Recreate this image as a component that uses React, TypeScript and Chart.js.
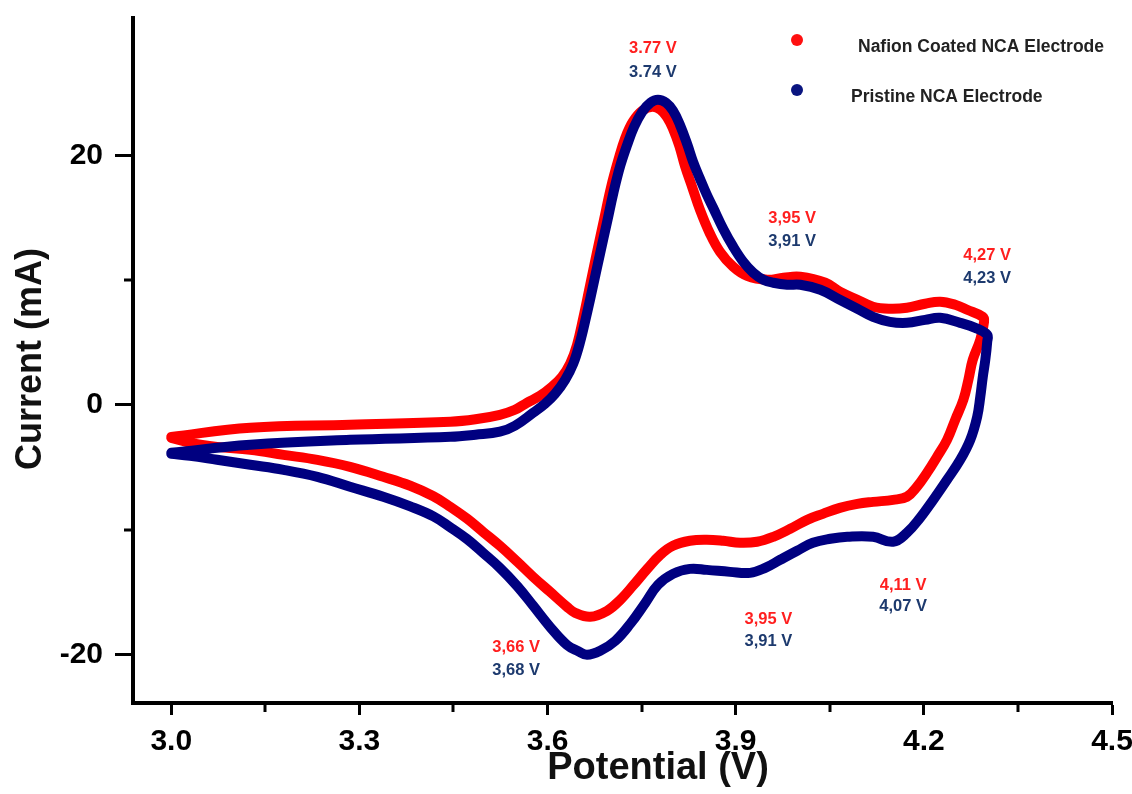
import React, { useEffect, useRef } from 'react';
import { Chart, registerables } from 'chart.js';

Chart.register(...registerables);

// ---- Data (potential in V, current in mA) ----
const NAFION_V = [
  3.000, 3.126, 3.285, 3.445, 3.485, 3.524, 3.548, 3.567, 3.588, 3.607, 3.623, 3.636, 3.647, 3.657, 3.668,
  3.679, 3.690, 3.701, 3.713, 3.724, 3.736, 3.751, 3.767, 3.780, 3.791, 3.800, 3.810, 3.819, 3.831, 3.843,
  3.859, 3.875, 3.896, 3.918, 3.950, 3.976, 4.003, 4.043, 4.066, 4.094, 4.119, 4.146, 4.173, 4.202, 4.226,
  4.250, 4.269, 4.294,
  4.296, 4.290, 4.278, 4.271, 4.263, 4.250, 4.237, 4.221, 4.205, 4.189, 4.173, 4.151, 4.119, 4.094, 4.066,
  4.039, 4.014, 3.987, 3.960, 3.934, 3.907, 3.880, 3.854, 3.827, 3.800, 3.780, 3.759, 3.736, 3.716, 3.695,
  3.668, 3.644, 3.631, 3.604, 3.577, 3.552, 3.524, 3.497, 3.472, 3.445, 3.418, 3.381, 3.338, 3.285, 3.233,
  3.179, 3.126, 3.073, 3.030, 3.000,
];
const NAFION_I = [
  -2.57, -1.84, -1.60, -1.36, -1.16, -0.80, -0.40, 0.16, 0.72, 1.44, 2.24, 3.29, 4.81, 6.97, 9.62,
  12.26, 14.83, 17.39, 19.64, 21.40, 22.69, 23.57, 23.89, 23.65, 23.01, 22.12, 20.76, 19.16, 17.39, 15.63,
  13.71, 12.26, 11.06, 10.34, 10.02, 10.18, 10.26, 9.78, 9.06, 8.42, 7.86, 7.70, 7.78, 8.10, 8.26,
  8.02, 7.62, 7.05,
  6.65, 5.21, 3.61, 2.00, 0.40, -1.20, -2.81, -4.17, -5.45, -6.57, -7.37, -7.62, -7.78, -7.94, -8.26,
  -8.74, -9.22, -9.94, -10.58, -10.98, -11.06, -10.90, -10.82, -10.90, -11.30, -12.02, -13.15, -14.51, -15.63, -16.51,
  -16.99, -16.67, -16.19, -14.99, -13.79, -12.59, -11.30, -10.18, -9.14, -8.18, -7.33, -6.49, -5.77, -4.97, -4.41,
  -4.01, -3.61, -3.37, -3.05, -2.65,
];

const PRISTINE_V = [
  3.000, 3.126, 3.285, 3.445, 3.485, 3.524, 3.548, 3.577, 3.596, 3.612, 3.628, 3.641, 3.652, 3.663, 3.674,
  3.684, 3.695, 3.705, 3.716, 3.727, 3.738, 3.751, 3.764, 3.776, 3.789, 3.800, 3.811, 3.823, 3.832, 3.843,
  3.854, 3.864, 3.880, 3.896, 3.912, 3.928, 3.944, 3.960, 3.982, 4.003, 4.035, 4.066, 4.094, 4.119, 4.146,
  4.173, 4.202, 4.226, 4.258, 4.282, 4.301,
  4.301, 4.298, 4.294, 4.290, 4.285, 4.274, 4.258, 4.237, 4.215, 4.194, 4.173, 4.151, 4.119, 4.078, 4.051,
  4.023, 3.998, 3.971, 3.947, 3.923, 3.891, 3.854, 3.827, 3.800, 3.776, 3.756, 3.732, 3.708, 3.684, 3.663,
  3.649, 3.631, 3.604, 3.577, 3.552, 3.524, 3.497, 3.472, 3.445, 3.418, 3.381, 3.338, 3.285, 3.233, 3.179,
  3.126, 3.073, 3.030, 3.000,
];
const PRISTINE_I = [
  -3.85, -3.21, -2.81, -2.57, -2.40, -2.16, -1.68, -0.64, 0.08, 0.88, 2.00, 3.29, 5.05, 7.37, 9.86,
  12.18, 14.67, 16.99, 19.16, 20.84, 22.28, 23.49, 24.21, 24.45, 24.21, 23.57, 22.45, 20.84, 19.48, 18.12,
  16.83, 15.79, 14.11, 12.67, 11.46, 10.58, 10.02, 9.78, 9.62, 9.62, 9.22, 8.42, 7.70, 7.05, 6.65,
  6.57, 6.81, 6.97, 6.57, 6.17, 5.61,
  5.05, 3.61, 2.24, 0.64, -0.96, -2.81, -4.41, -6.01, -7.62, -9.06, -10.26, -10.98, -10.58, -10.58, -10.74,
  -11.06, -11.70, -12.42, -13.07, -13.47, -13.39, -13.23, -13.15, -13.55, -14.43, -15.87, -17.55, -18.92, -19.72, -20.04,
  -19.75, -19.25, -17.80, -16.10, -14.55, -13.07, -11.86, -10.78, -9.82, -8.94, -8.14, -7.37, -6.57, -5.77, -5.21,
  -4.81, -4.41, -4.09, -3.93,
];

const SERIES_NAMES = ['Nafion Coated NCA Electrode', 'Pristine NCA Electrode'];

const X_TICKS = [3.0, 3.3, 3.6, 3.9, 4.2, 4.5];
const X_MINOR = [3.15, 3.45, 3.75, 4.05, 4.35];
const Y_TICKS = [-20, 0, 20];
const Y_MINOR = [-10, 10];

// Peak annotations (text, anchor potential, anchor current, series index)
const PEAK_TEXT = [
  '3.77 V', '3.74 V', '3,95 V', '3,91 V', '4,27 V', '4,23 V',
  '4,11 V', '4,07 V', '3,95 V', '3,91 V', '3,66 V', '3,68 V',
];
const PEAK_V = [3.768, 3.768, 3.990, 3.990, 4.301, 4.301, 4.167, 4.167, 3.952, 3.952, 3.550, 3.550];
const PEAK_I = [28.54, 26.61, 14.91, 13.07, 11.94, 10.10, -14.51, -16.19, -17.23, -19.00, -19.48, -21.32];
const PEAK_SERIES = [0, 1, 0, 1, 0, 1, 0, 1, 0, 1, 0, 1];

const LINE_COLORS = ['#ff0000', '#000080'];
const LABEL_COLORS = ['#ff1f1f', '#1d3a6e'];

const FONT = "'Liberation Sans', Arial, Helvetica, sans-serif";

const overlayPlugin = {
  id: 'overlay',
  afterDraw(chart: any) {
    const { ctx, chartArea, scales } = chart;
    const xs = scales.x;
    const ys = scales.y;
    ctx.save();
    // minor ticks
    ctx.strokeStyle = '#000';
    ctx.lineWidth = 3;
    ctx.beginPath();
    X_MINOR.forEach((v) => {
      const px = Math.round(xs.getPixelForValue(v));
      ctx.moveTo(px, chartArea.bottom);
      ctx.lineTo(px, chartArea.bottom + 9);
    });
    Y_MINOR.forEach((v) => {
      const py = Math.round(ys.getPixelForValue(v));
      ctx.moveTo(chartArea.left, py);
      ctx.lineTo(chartArea.left - 9, py);
    });
    ctx.stroke();

    // peak labels
    ctx.font = `bold 16.5px ${FONT}`;
    ctx.textAlign = 'center';
    ctx.textBaseline = 'middle';
    PEAK_TEXT.forEach((t, k) => {
      ctx.fillStyle = LABEL_COLORS[PEAK_SERIES[k]];
      ctx.fillText(t, xs.getPixelForValue(PEAK_V[k]), ys.getPixelForValue(PEAK_I[k]));
    });

    // legend
    const legendPos = [
      { dx: 797, dy: 40, tx: 858, ty: 47 },
      { dx: 797, dy: 90, tx: 851, ty: 97 },
    ];
    ctx.font = `bold 17.5px ${FONT}`;
    ctx.textAlign = 'left';
    SERIES_NAMES.forEach((name, k) => {
      const p = legendPos[k];
      ctx.fillStyle = k === 0 ? '#ff1010' : '#0a1580';
      ctx.beginPath();
      ctx.arc(p.dx, p.dy, 6, 0, Math.PI * 2);
      ctx.fill();
      ctx.fillStyle = '#222';
      ctx.fillText(name, p.tx, p.ty);
    });

    // axis titles
    ctx.fillStyle = '#111';
    ctx.font = `bold 38px ${FONT}`;
    ctx.textAlign = 'center';
    ctx.textBaseline = 'middle';
    ctx.fillText('Potential (V)', 658, 769);
    ctx.save();
    ctx.translate(31, 359);
    ctx.rotate(-Math.PI / 2);
    ctx.font = `bold 36px ${FONT}`;
    ctx.fillText('Current (mA)', 0, 0);
    ctx.restore();
    ctx.restore();
  },
};

export default function App() {
  const canvasRef = useRef<HTMLCanvasElement | null>(null);

  useEffect(() => {
    const canvas = canvasRef.current;
    if (!canvas) return;
    const toPoints = (vs: number[], is: number[]) => vs.map((v, k) => ({ x: v, y: is[k] }));
    const lineStyle = {
      showLine: true,
      borderWidth: 10,
      pointRadius: 0,
      tension: 0.4,
      borderCapStyle: 'round',
      borderJoinStyle: 'round',
    };
    const chart = new Chart(canvas, {
      type: 'scatter',
      data: {
        datasets: [
          {
            ...lineStyle,
            label: SERIES_NAMES[0],
            data: toPoints(NAFION_V, NAFION_I),
            borderColor: LINE_COLORS[0],
            backgroundColor: LINE_COLORS[0],
            order: 1,
          },
          {
            ...lineStyle,
            label: SERIES_NAMES[1],
            data: toPoints(PRISTINE_V, PRISTINE_I),
            borderColor: LINE_COLORS[1],
            backgroundColor: LINE_COLORS[1],
            order: 0,
          },
        ],
      },
      options: {
        animation: false,
        responsive: true,
        maintainAspectRatio: false,
        devicePixelRatio: 1,
        events: [],
        layout: { padding: { left: 0, right: 20, top: 18, bottom: 0 } },
        plugins: {
          legend: { display: false },
          tooltip: { enabled: false },
        },
        scales: {
          x: {
            type: 'linear',
            min: 2.939,
            max: 4.5,
            afterBuildTicks: (s: any) => {
              s.ticks = X_TICKS.map((v) => ({ value: v }));
            },
            afterFit: (s: any) => {
              s.height = 91;
              s.paddingLeft = 0;
              s.paddingRight = 0;
            },
            ticks: {
              autoSkip: false,
              maxRotation: 0,
              padding: 9,
              color: '#000',
              font: { family: FONT, size: 30, weight: 'bold' },
              callback: (v: any) => Number(v).toFixed(1),
            },
            grid: {
              drawOnChartArea: false,
              drawTicks: true,
              tickLength: 12,
              tickColor: '#000',
              tickWidth: 3,
            },
            border: { display: true, color: '#000', width: 4 },
          },
          y: {
            type: 'linear',
            min: -23.9,
            max: 31,
            afterBuildTicks: (s: any) => {
              s.ticks = Y_TICKS.map((v) => ({ value: v }));
            },
            afterFit: (s: any) => {
              s.width = 133;
              s.paddingTop = 0;
              s.paddingBottom = 0;
            },
            ticks: {
              padding: 12,
              color: '#000',
              font: { family: FONT, size: 30, weight: 'bold' },
              callback: (v: any) => String(v),
            },
            grid: {
              drawOnChartArea: false,
              drawTicks: true,
              tickLength: 18,
              tickColor: '#000',
              tickWidth: 3,
            },
            border: { display: true, color: '#000', width: 4 },
          },
        },
      } as any,
      plugins: [overlayPlugin],
    });
    return () => chart.destroy();
  }, []);

  return (
    <div style={{ position: 'fixed', left: 0, top: 0, width: 1132, height: 794, background: '#fff' }}>
      <canvas ref={canvasRef} />
    </div>
  );
}
